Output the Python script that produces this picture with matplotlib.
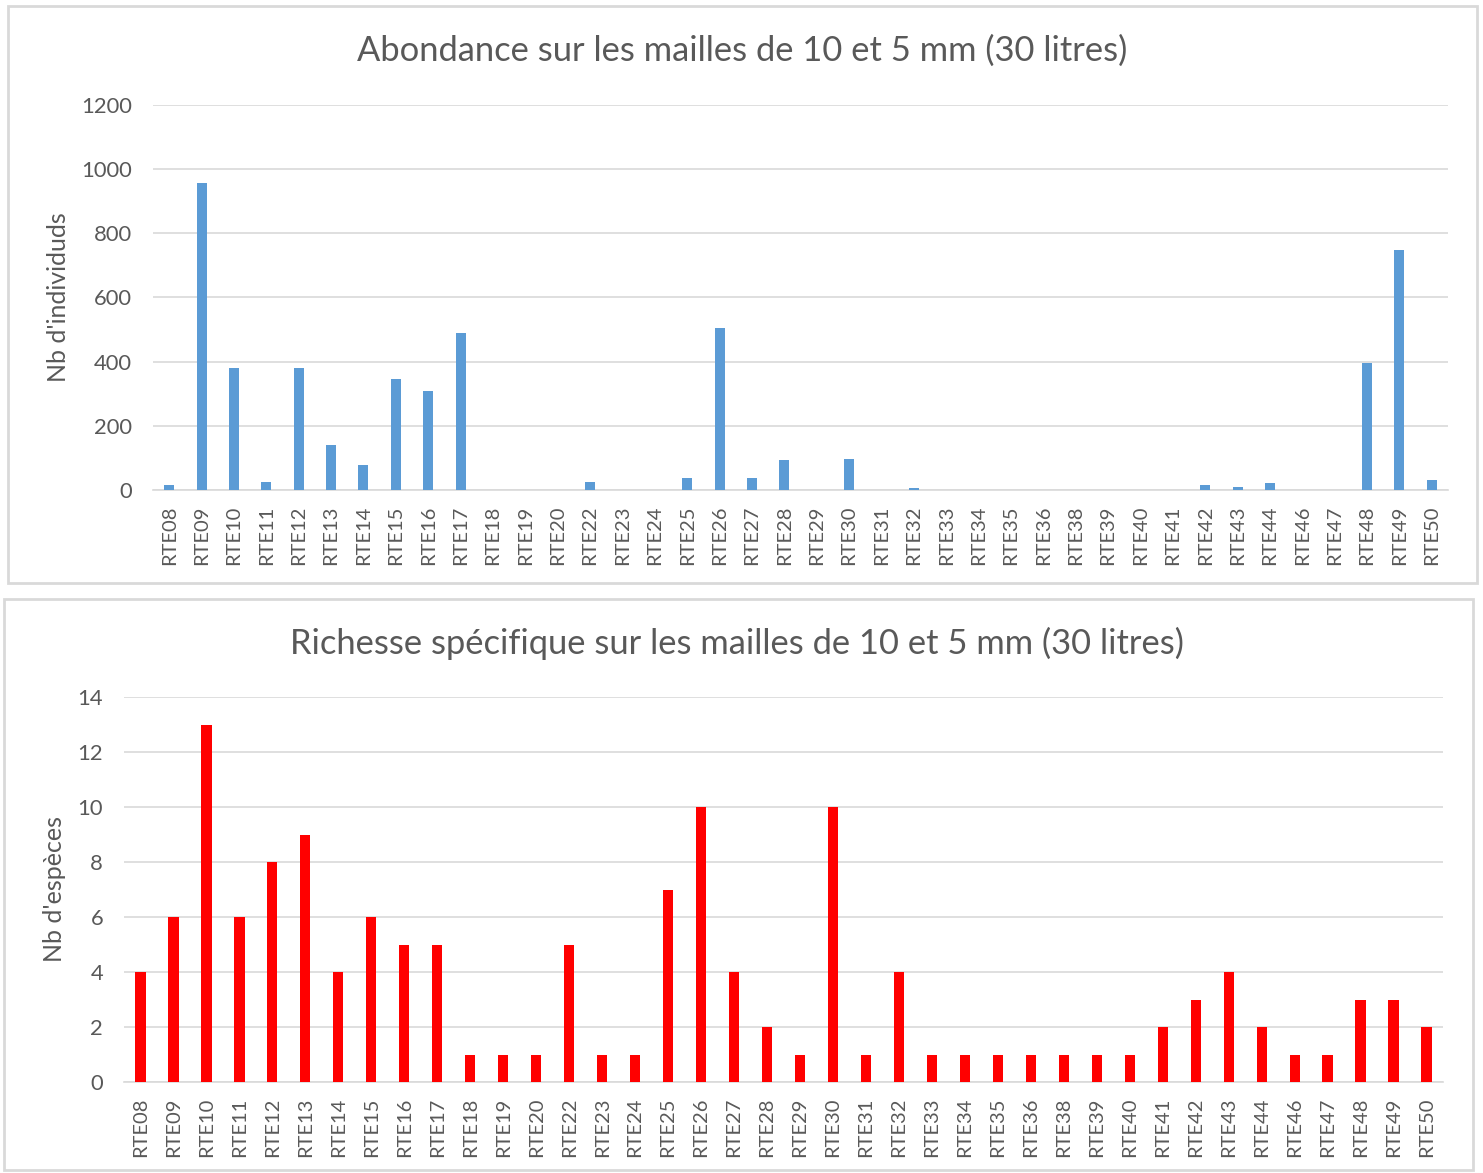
import numpy as np
import matplotlib.pyplot as plt
from matplotlib.patches import Rectangle

# stations (same for both charts)
stations = ['RTE08', 'RTE09', 'RTE10', 'RTE11', 'RTE12', 'RTE13', 'RTE14', 'RTE15',
            'RTE16', 'RTE17', 'RTE18', 'RTE19', 'RTE20', 'RTE22', 'RTE23', 'RTE24',
            'RTE25', 'RTE26', 'RTE27', 'RTE28', 'RTE29', 'RTE30', 'RTE31', 'RTE32',
            'RTE33', 'RTE34', 'RTE35', 'RTE36', 'RTE38', 'RTE39', 'RTE40', 'RTE41',
            'RTE42', 'RTE43', 'RTE44', 'RTE46', 'RTE47', 'RTE48', 'RTE49', 'RTE50']

# abondance (nb d'individus)
abondance = [17, 956, 381, 26, 381, 141, 78, 346, 309, 489,
             0, 0, 0, 26, 0, 0, 37, 505, 37, 93,
             0, 97, 0, 5, 0, 0, 0, 0, 0, 0,
             0, 0, 17, 9, 22, 0, 0, 397, 749, 30]

# richesse specifique (nb d'especes)
richesse = [4, 6, 13, 6, 8, 9, 4, 6, 5, 5,
            1, 1, 1, 5, 1, 1, 7, 10, 4, 2,
            1, 10, 1, 4, 1, 1, 1, 1, 1, 1,
            1, 2, 3, 4, 2, 1, 1, 3, 3, 2]

plt.rcParams['font.family'] = ['Lato', 'DejaVu Sans']

W, H = 1483, 1173
TXT = '#595959'
GRID = '#d9d9d9'

fig = plt.figure(figsize=(W / 100, H / 100), dpi=100)
fig.patch.set_facecolor('white')


def px_axes(left, top, right, bottom):
    return fig.add_axes([left / W, 1 - bottom / H, (right - left) / W, (bottom - top) / H])


def panel(x0, y0, x1, y1):
    fig.patches.append(Rectangle((x0 / W, 1 - y1 / H), (x1 - x0) / W, (y1 - y0) / H,
                                 transform=fig.transFigure, fill=False,
                                 edgecolor=GRID, linewidth=2))


def draw(ax, values, color, ymax, step, ylabel):
    x = np.arange(len(stations))
    ax.bar(x, values, width=0.31, color=color, zorder=3)
    ax.set_xlim(-0.5, len(stations) - 0.5)
    ax.set_ylim(0, ymax)
    ax.set_yticks(np.arange(0, ymax + 1, step))
    ax.set_xticks(x)
    ax.set_xticklabels(stations, rotation=90)
    ax.grid(axis='y', color=GRID, linewidth=1.2, zorder=0)
    for s in ['top', 'left', 'right']:
        ax.spines[s].set_visible(False)
    ax.spines['bottom'].set_color(GRID)
    ax.spines['bottom'].set_linewidth(1.2)
    ax.tick_params(axis='both', length=0, colors=TXT)
    ax.tick_params(axis='x', pad=11, labelsize=14.5)
    ax.tick_params(axis='y', pad=15, labelsize=15.8)
    ax.set_ylabel(ylabel, color=TXT, fontsize=18)


panel(8, 6, 1477, 583)
panel(4, 599, 1473, 1170)

ax1 = px_axes(153, 105, 1448, 490)
draw(ax1, abondance, '#5B9BD5', 1200, 200, "Nb d'individuds")
ax1.yaxis.set_label_coords((70 - 153) / (1448 - 153), 0.5)
fig.text(742 / W, 1 - 51 / H, 'Abondance sur les mailles de 10 et 5 mm (30 litres)',
         ha='center', va='center', color=TXT, fontsize=24.8)

ax2 = px_axes(124, 697, 1443, 1082)
draw(ax2, richesse, '#FF0000', 14, 2, "Nb d'espèces")
ax2.yaxis.set_label_coords((66 - 124) / (1443 - 124), 0.5)
fig.text(737 / W, 1 - 643 / H, 'Richesse spécifique sur les mailles de 10 et 5 mm (30 litres)',
         ha='center', va='center', color=TXT, fontsize=24.8)

plt.savefig('out.png', dpi=100, facecolor='white')
